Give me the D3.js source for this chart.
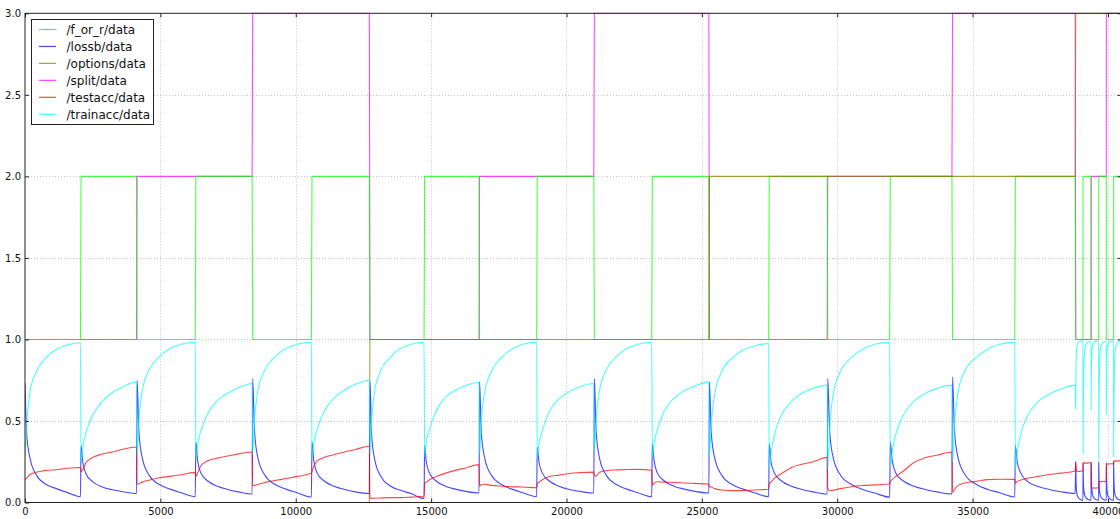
<!DOCTYPE html>
<html>
<head>
<meta charset="utf-8">
<script src="https://cdn.jsdelivr.net/npm/d3@7"></script>
<style>
  html, body { margin: 0; padding: 0; background: #fff; }
  svg { display: block; font-family: "DejaVu Sans", sans-serif; }
</style>
</head>
<body>
<svg id="chart" width="1120" height="519"></svg>
<script>
// step at which each training period starts (f_or_r toggles at each one)
const periodStart = [0, 2070, 4140, 6310, 8410, 10600, 12740, 14760, 16790, 18920, 21030, 23170,
  25280, 27490, 29650, 31960, 34260, 36580, 38810, 39080, 39380, 39660, 39940, 40210];
const lastStep = 40500;

const fOrR    = [1,2,1,2,1,2, 1,2,1,2,1,2, 1,2,1,2,1,2, 1,2,1,2,1,2];
const split   = [1,1,2,2,3,3, 1,1,2,2,3,3, 1,1,2,2,3,3, 1,1,2,2,3,3];
const options = [0,0,0,0,0,0, 1,1,1,1,1,1, 2,2,2,2,2,2, 3,3,3,3,3,3];

// where inside each period the readings below were taken (fraction of the period)
const samplePos = [0, 0.03, 0.09, 0.2, 0.38, 0.56, 0.75, 0.99];

const trainacc = [
  [0.28, 0.48, 0.68, 0.80, 0.89, 0.94, 0.965, 0.98],
  [0.24, 0.33, 0.43, 0.53, 0.62, 0.675, 0.71, 0.74],
  [0.29, 0.50, 0.69, 0.81, 0.895, 0.945, 0.97, 0.983],
  [0.26, 0.35, 0.44, 0.54, 0.625, 0.67, 0.705, 0.73],
  [0.30, 0.50, 0.69, 0.81, 0.895, 0.945, 0.97, 0.983],
  [0.27, 0.36, 0.45, 0.55, 0.64, 0.69, 0.725, 0.75],
  [0.30, 0.50, 0.69, 0.81, 0.895, 0.945, 0.97, 0.983],
  [0.28, 0.37, 0.45, 0.555, 0.645, 0.688, 0.717, 0.737],
  [0.30, 0.50, 0.68, 0.80, 0.89, 0.94, 0.97, 0.983],
  [0.27, 0.36, 0.44, 0.55, 0.635, 0.68, 0.71, 0.73],
  [0.31, 0.50, 0.69, 0.81, 0.895, 0.945, 0.97, 0.983],
  [0.27, 0.36, 0.45, 0.555, 0.64, 0.685, 0.715, 0.74],
  [0.28, 0.48, 0.67, 0.80, 0.885, 0.935, 0.96, 0.975],
  [0.20, 0.30, 0.42, 0.53, 0.62, 0.67, 0.70, 0.72],
  [0.21, 0.45, 0.67, 0.80, 0.89, 0.94, 0.97, 0.982],
  [0.22, 0.31, 0.42, 0.53, 0.62, 0.67, 0.70, 0.72],
  [0.25, 0.47, 0.68, 0.81, 0.89, 0.94, 0.97, 0.982],
  [0.21, 0.31, 0.42, 0.53, 0.62, 0.665, 0.695, 0.72],
  [0.57, 0.80, 0.92, 0.965, 0.982, 0.988, 0.99, 0.992],
  [0.30, 0.55, 0.80, 0.93, 0.97, 0.982, 0.987, 0.99],
  [0.57, 0.80, 0.92, 0.965, 0.982, 0.988, 0.99, 0.992],
  [0.26, 0.55, 0.80, 0.93, 0.97, 0.982, 0.987, 0.99],
  [0.54, 0.80, 0.92, 0.965, 0.982, 0.988, 0.99, 0.992],
  [0.28, 0.55, 0.80, 0.93, 0.97, 0.982, 0.987, 0.99]
];

const lossb = [
  [0.73, 0.42, 0.27, 0.17, 0.11, 0.085, 0.062, 0.036],
  [0.35, 0.25, 0.175, 0.13, 0.095, 0.078, 0.066, 0.055],
  [0.75, 0.44, 0.27, 0.17, 0.11, 0.082, 0.06, 0.036],
  [0.37, 0.26, 0.18, 0.135, 0.10, 0.08, 0.065, 0.052],
  [0.76, 0.44, 0.27, 0.17, 0.11, 0.082, 0.06, 0.034],
  [0.37, 0.26, 0.18, 0.135, 0.10, 0.08, 0.065, 0.055],
  [0.74, 0.42, 0.26, 0.16, 0.10, 0.075, 0.055, 0.025],
  [0.35, 0.25, 0.18, 0.135, 0.10, 0.082, 0.068, 0.058],
  [0.74, 0.43, 0.27, 0.17, 0.11, 0.082, 0.06, 0.036],
  [0.34, 0.25, 0.18, 0.135, 0.10, 0.08, 0.068, 0.058],
  [0.76, 0.44, 0.27, 0.17, 0.11, 0.082, 0.06, 0.035],
  [0.36, 0.26, 0.18, 0.135, 0.10, 0.082, 0.068, 0.058],
  [0.74, 0.43, 0.27, 0.17, 0.11, 0.082, 0.06, 0.036],
  [0.36, 0.25, 0.18, 0.135, 0.10, 0.08, 0.065, 0.052],
  [0.76, 0.44, 0.27, 0.17, 0.11, 0.08, 0.058, 0.033],
  [0.37, 0.26, 0.18, 0.135, 0.10, 0.08, 0.065, 0.052],
  [0.77, 0.44, 0.27, 0.17, 0.11, 0.08, 0.06, 0.034],
  [0.35, 0.25, 0.18, 0.13, 0.098, 0.08, 0.066, 0.055],
  [0.25, 0.16, 0.08, 0.045, 0.028, 0.02, 0.016, 0.013],
  [0.245, 0.16, 0.08, 0.045, 0.028, 0.02, 0.016, 0.013],
  [0.25, 0.16, 0.08, 0.045, 0.028, 0.02, 0.016, 0.013],
  [0.25, 0.16, 0.08, 0.045, 0.028, 0.02, 0.016, 0.013],
  [0.245, 0.16, 0.08, 0.045, 0.028, 0.02, 0.016, 0.013],
  [0.25, 0.16, 0.08, 0.045, 0.028, 0.02, 0.016, 0.013]
];

const testacc = [
  [0.14, 0.15, 0.172, 0.185, 0.197, 0.201, 0.21, 0.215],
  [0.19, 0.20, 0.245, 0.275, 0.297, 0.31, 0.327, 0.34],
  [0.113, 0.115, 0.125, 0.137, 0.152, 0.16, 0.17, 0.185],
  [0.16, 0.18, 0.225, 0.255, 0.272, 0.285, 0.298, 0.31],
  [0.103, 0.105, 0.11, 0.122, 0.135, 0.147, 0.16, 0.179],
  [0.19, 0.22, 0.255, 0.275, 0.293, 0.31, 0.325, 0.345],
  [0.03, 0.025, 0.026, 0.028, 0.03, 0.03, 0.033, 0.038],
  [0.118, 0.125, 0.14, 0.158, 0.18, 0.197, 0.212, 0.232],
  [0.10, 0.11, 0.112, 0.105, 0.10, 0.097, 0.095, 0.09],
  [0.115, 0.125, 0.14, 0.158, 0.168, 0.178, 0.183, 0.186],
  [0.17, 0.16, 0.185, 0.195, 0.20, 0.202, 0.203, 0.198],
  [0.105, 0.118, 0.127, 0.125, 0.123, 0.12, 0.117, 0.113],
  [0.097, 0.095, 0.085, 0.077, 0.073, 0.073, 0.077, 0.081],
  [0.115, 0.125, 0.15, 0.175, 0.215, 0.235, 0.25, 0.277],
  [0.087, 0.072, 0.075, 0.085, 0.097, 0.104, 0.108, 0.113],
  [0.125, 0.14, 0.16, 0.19, 0.245, 0.275, 0.29, 0.31],
  [0.06, 0.08, 0.105, 0.12, 0.13, 0.14, 0.143, 0.142],
  [0.118, 0.128, 0.138, 0.148, 0.16, 0.172, 0.18, 0.193],
  [0.25, 0.22, 0.20, 0.19, 0.19, 0.19, 0.195, 0.19],
  [0.23, 0.245, 0.245, 0.24, 0.245, 0.24, 0.245, 0.24],
  [0.10, 0.09, 0.087, 0.087, 0.09, 0.087, 0.09, 0.087],
  [0.13, 0.128, 0.128, 0.13, 0.128, 0.13, 0.128, 0.13],
  [0.20, 0.23, 0.236, 0.235, 0.238, 0.236, 0.238, 0.236],
  [0.25, 0.255, 0.25, 0.255, 0.255, 0.255, 0.255, 0.255]
];

const xTicks = [0, 5000, 10000, 15000, 20000, 25000, 30000, 35000, 40000];
const yTicks = [0, 0.5, 1.0, 1.5, 2.0, 2.5, 3.0];

const legendNames = ["/f_or_r/data", "/lossb/data", "/options/data", "/split/data", "/testacc/data", "/trainacc/data"];
const colors = {
  f_or_r: "#00ff00", lossb: "#0000ff", options: "#808000",
  split: "#ff00ff", testacc: "#ff0000", trainacc: "#00ffff"
};

const svg = d3.select("#chart");
const plotLeft = 25, plotRight = 1121.5, plotTop = 13.3, plotBottom = 502.5;

const x = d3.scaleLinear().domain([0, lastStep]).range([plotLeft, plotRight]);
const y = d3.scaleLinear().domain([0, 3]).range([plotBottom, plotTop]);

function periodEnd(i) {
  return i + 1 < periodStart.length ? periodStart[i + 1] : lastStep;
}

// points for a sampled series
function samplePoints(series) {
  let pts = [];
  series.forEach((vals, i) => {
    let s = periodStart[i], e = periodEnd(i);
    vals.forEach((v, j) => pts.push([s + samplePos[j] * (e - s), v]));
  });
  return pts;
}

// points for a piecewise constant series
function stepPoints(vals) {
  let pts = [];
  vals.forEach((v, i) => {
    let s = periodStart[i], e = periodEnd(i);
    pts.push([s, v]);
    pts.push([s + samplePos[samplePos.length - 1] * (e - s), v]);
  });
  return pts;
}

svg.append("rect").attr("width", 1120).attr("height", 519).attr("fill", "#fff");

// grid
let grid = svg.append("g").attr("stroke", "#c4c4c4").attr("stroke-width", 1).attr("stroke-dasharray", "1,2");
grid.selectAll("line.gx").data(xTicks.slice(1)).enter().append("line")
  .attr("x1", d => Math.round(x(d)) + 0.5).attr("x2", d => Math.round(x(d)) + 0.5)
  .attr("y1", plotTop).attr("y2", plotBottom);
grid.selectAll("line.gy").data(yTicks.slice(1, -1)).enter().append("line")
  .attr("y1", d => Math.round(y(d)) + 0.5).attr("y2", d => Math.round(y(d)) + 0.5)
  .attr("x1", plotLeft).attr("x2", plotRight);

svg.append("clipPath").attr("id", "plotclip").append("rect")
  .attr("x", plotLeft).attr("y", plotTop - 1).attr("width", plotRight - plotLeft).attr("height", plotBottom - plotTop + 2);

let lineStraight = d3.line().x(d => x(d[0])).y(d => y(d[1]));
let lineSmooth = d3.line().x(d => x(d[0])).y(d => y(d[1])).curve(d3.curveMonotoneX);

let plot = svg.append("g").attr("clip-path", "url(#plotclip)")
  .attr("fill", "none").attr("stroke-width", 1.1).attr("stroke-opacity", 0.72);

plot.append("path").attr("d", lineStraight(stepPoints(split))).attr("stroke", colors.split);
plot.append("path").attr("d", lineStraight(stepPoints(fOrR))).attr("stroke", colors.f_or_r);
plot.append("path").attr("d", lineStraight(stepPoints(options))).attr("stroke", colors.options);
plot.append("path").attr("d", lineSmooth(samplePoints(lossb))).attr("stroke", colors.lossb);
plot.append("path").attr("d", lineSmooth(samplePoints(testacc))).attr("stroke", colors.testacc);
plot.append("path").attr("d", lineSmooth(samplePoints(trainacc))).attr("stroke", colors.trainacc);

// frame
svg.append("rect").attr("x", plotLeft).attr("y", plotTop).attr("width", plotRight - plotLeft).attr("height", plotBottom - plotTop)
  .attr("fill", "none").attr("stroke", "#222").attr("stroke-width", 1);

// axes, ticks pointing inward like matplotlib
function styleAxis(g) {
  g.select(".domain").remove();
  g.selectAll("line").attr("stroke", "#222");
  g.selectAll("text").attr("fill", "#111").style("font-size", "10px").style("font-family", "DejaVu Sans, sans-serif");
}

svg.append("g").attr("transform", `translate(0,${plotBottom})`)
  .call(d3.axisBottom(x).tickValues(xTicks).tickFormat(d3.format("d")).tickSizeInner(-4).tickSizeOuter(0).tickPadding(5))
  .call(styleAxis);
svg.append("g").attr("transform", `translate(0,${plotTop})`)
  .call(d3.axisTop(x).tickValues(xTicks).tickFormat("").tickSizeInner(-4).tickSizeOuter(0))
  .call(styleAxis);
svg.append("g").attr("transform", `translate(${plotLeft},0)`)
  .call(d3.axisLeft(y).tickValues(yTicks).tickFormat(d3.format(".1f")).tickSizeInner(-4).tickSizeOuter(0).tickPadding(4))
  .call(styleAxis);
svg.append("g").attr("transform", `translate(${plotRight},0)`)
  .call(d3.axisRight(y).tickValues(yTicks).tickFormat("").tickSizeInner(-4).tickSizeOuter(0))
  .call(styleAxis);

// legend
const legendColors = [colors.f_or_r, colors.lossb, colors.options, colors.split, colors.testacc, colors.trainacc];
let legend = svg.append("g");
legend.append("rect").attr("x", 31.5).attr("y", 19.5).attr("width", 122).attr("height", 105)
  .attr("fill", "#fff").attr("stroke", "#222").attr("stroke-width", 1);
let rows = legend.selectAll("g.row").data(legendNames).enter().append("g")
  .attr("transform", (d, i) => `translate(0,${29.5 + i * 16.95})`);
rows.append("line").attr("x1", 39).attr("x2", 56).attr("y1", 0).attr("y2", 0)
  .attr("stroke", (d, i) => legendColors[i]).attr("stroke-opacity", 0.72).attr("stroke-width", 1.2);
rows.append("text").attr("x", 66.5).attr("dy", "0.36em").style("font-size", "12px")
  .attr("fill", "#111").text(d => d);
</script>
</body>
</html>
